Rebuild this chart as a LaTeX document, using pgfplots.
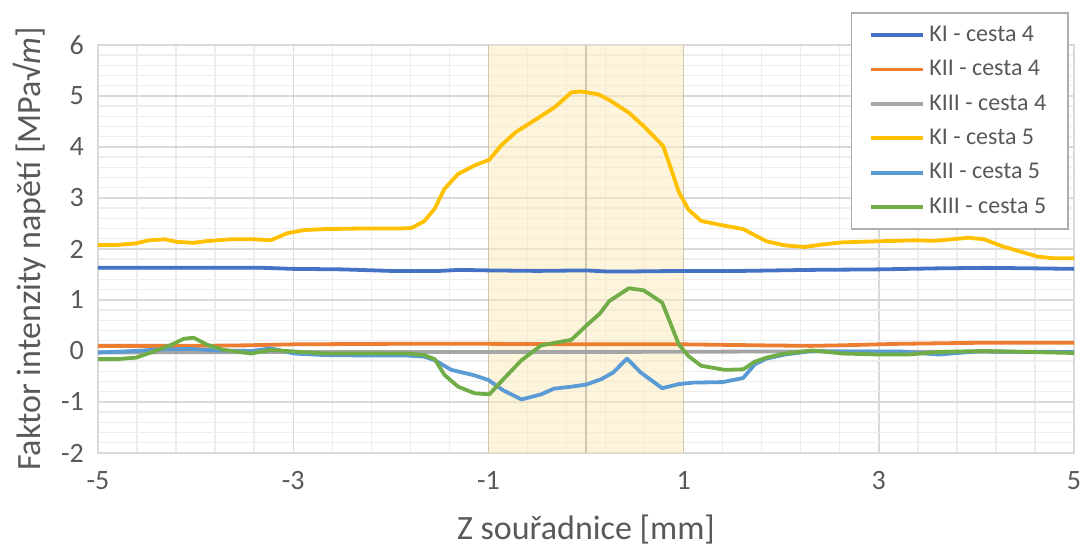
\documentclass[border=0pt]{standalone}
\usepackage{pgfplots}
\pgfplotsset{compat=1.18}
\usepackage{fontspec}
\setmainfont{Carlito}
\definecolor{cA}{HTML}{4472C4}
\definecolor{cB}{HTML}{ED7D31}
\definecolor{cC}{HTML}{A5A5A5}
\definecolor{cD}{HTML}{FFC000}
\definecolor{cE}{HTML}{5B9BD5}
\definecolor{cF}{HTML}{70AD47}
\definecolor{gridmaj}{HTML}{D9D9D9}
\definecolor{gridmin}{HTML}{EDEDED}
\definecolor{txt}{HTML}{595959}
\definecolor{shade}{HTML}{FCEBC0}
\definecolor{tan}{HTML}{CFC5B0}
\begin{document}
\begin{tikzpicture}
\begin{axis}[
  scale only axis, width=488pt, height=204pt,
  xmin=-5, xmax=5, ymin=-2, ymax=6,
  xtick={-5,-3,-1,1,3,5}, ytick={-2,-1,0,1,2,3,4,5,6},
  minor x tick num=4, minor y tick num=4,
  grid=both,
  major grid style={draw=gridmaj, line width=0.7pt},
  minor grid style={draw=gridmin, line width=0.7pt},
  axis line style={draw=gridmaj, line width=0.7pt},
  major tick length=0pt, minor tick length=0pt,
  /pgf/number format/assume math mode=true,
  ticklabel style={font=\fontsize{14}{16}\selectfont, text=txt},
  xticklabel style={anchor=center, yshift=-14pt},
  yticklabel style={xshift=-3.5pt},
  xlabel={Z souřadnice [mm]},
  ylabel={Faktor intenzity napětí [MPa√\textit{m}]},
  label style={font=\fontsize{17}{20}\selectfont, text=txt},
  xlabel style={at={(axis description cs:0.5,-0.1887)}, anchor=center},
  ylabel style={at={(axis description cs:-0.0697,0.5)}, anchor=center},
  legend style={at={(axis description cs:1,1)}, anchor=north east,
    xshift=-2.5pt, yshift=16.5pt, draw=gridmaj!80!black, line width=0.8pt,
    fill=white, font=\fontsize{12}{14}\selectfont, text=txt,
    cells={anchor=west}, row sep=4pt, inner xsep=9pt, inner ysep=4.5pt},
  legend image code/.code={\draw[#1] (0pt,0pt) -- (26pt,0pt);},
  every axis plot/.append style={line width=1.9pt, line join=round},
]
\addplot[forget plot, draw=none, fill=shade, fill opacity=0.55, line width=0pt]
  coordinates {(-1,-2) (-1,6) (1,6) (1,-2) (-1,-2)};
\addplot[forget plot, draw=tan, line width=0.7pt] coordinates {(-1,-2) (-1,6)};
\addplot[forget plot, draw=tan, line width=0.7pt] coordinates {(0,-2) (0,6)};
\addplot[forget plot, draw=tan, line width=0.7pt] coordinates {(1,-2) (1,6)};

\addplot[cA] coordinates {(-5,1.63) (-4,1.63) (-3.3,1.63) (-3,1.61) (-2.5,1.60) (-2,1.57) (-1.5,1.57) (-1.3,1.59) (-1,1.58) (-0.5,1.57) (0,1.58) (0.2,1.56) (0.5,1.56) (1,1.57) (1.6,1.57) (2.3,1.59) (3,1.60) (3.6,1.62) (4.1,1.63) (4.6,1.62) (5,1.61)};
\addlegendentry{KI - cesta 4}
\addplot[cB] coordinates {(-5,0.10) (-4,0.10) (-3.5,0.11) (-3,0.13) (-2,0.14) (-1,0.14) (0,0.13) (1,0.13) (1.8,0.11) (2.3,0.10) (2.6,0.11) (3.2,0.14) (4,0.16) (5,0.16)};
\addlegendentry{KII - cesta 4}
\addplot[cC] coordinates {(-5,-0.03) (-3,-0.02) (0,-0.02) (2,-0.01) (5,-0.02)};
\addlegendentry{KIII - cesta 4}
\addplot[cD] coordinates {(-5,2.08) (-4.8,2.08) (-4.61,2.11) (-4.48,2.17) (-4.32,2.19) (-4.19,2.14) (-4.02,2.12) (-3.91,2.15) (-3.64,2.19) (-3.4,2.19) (-3.23,2.17) (-3.06,2.31) (-2.89,2.37) (-2.68,2.39) (-2.34,2.40) (-1.93,2.40) (-1.79,2.41) (-1.66,2.54) (-1.55,2.79) (-1.45,3.18) (-1.31,3.47) (-1.14,3.64) (-0.99,3.75) (-0.87,4.03) (-0.72,4.29) (-0.53,4.52) (-0.32,4.78) (-0.15,5.07) (-0.05,5.09) (0.13,5.03) (0.24,4.92) (0.44,4.67) (0.59,4.41) (0.79,4.02) (0.87,3.58) (0.95,3.12) (1.05,2.77) (1.18,2.55) (1.38,2.47) (1.61,2.39) (1.85,2.15) (2.04,2.07) (2.24,2.04) (2.43,2.09) (2.63,2.13) (2.98,2.15) (3.37,2.17) (3.57,2.16) (3.92,2.22) (4.08,2.19) (4.27,2.05) (4.43,1.96) (4.63,1.85) (4.78,1.82) (5,1.82)};
\addlegendentry{KI - cesta 5}
\addplot[cE] coordinates {(-5,-0.03) (-4.61,0.0) (-4.39,0.03) (-4.05,0.04) (-3.78,0.01) (-3.43,0.0) (-3.23,0.05) (-2.99,-0.05) (-2.68,-0.08) (-2.17,-0.09) (-1.83,-0.09) (-1.66,-0.11) (-1.55,-0.18) (-1.38,-0.37) (-1.14,-0.48) (-1.0,-0.57) (-0.85,-0.77) (-0.66,-0.95) (-0.46,-0.85) (-0.33,-0.74) (-0.15,-0.70) (0.0,-0.66) (0.16,-0.55) (0.28,-0.42) (0.42,-0.15) (0.56,-0.42) (0.78,-0.73) (0.95,-0.65) (1.10,-0.62) (1.40,-0.61) (1.61,-0.53) (1.73,-0.26) (1.85,-0.15) (2.04,-0.07) (2.32,0.0) (2.63,-0.01) (3.22,-0.01) (3.61,-0.07) (4.0,-0.01) (5,-0.02)};
\addlegendentry{KII - cesta 5}
\addplot[cF] coordinates {(-5,-0.16) (-4.8,-0.16) (-4.61,-0.13) (-4.46,-0.03) (-4.25,0.12) (-4.12,0.24) (-4.02,0.26) (-3.88,0.12) (-3.71,0.02) (-3.43,-0.05) (-3.23,0.02) (-2.99,-0.01) (-2.68,-0.05) (-1.83,-0.05) (-1.66,-0.08) (-1.55,-0.16) (-1.45,-0.47) (-1.31,-0.70) (-1.14,-0.83) (-0.99,-0.85) (-0.84,-0.54) (-0.66,-0.18) (-0.46,0.11) (-0.29,0.17) (-0.15,0.22) (0.0,0.49) (0.14,0.73) (0.24,0.98) (0.44,1.23) (0.59,1.19) (0.78,0.95) (0.87,0.52) (0.95,0.13) (1.05,-0.10) (1.18,-0.29) (1.42,-0.37) (1.61,-0.36) (1.73,-0.21) (1.85,-0.13) (2.04,-0.05) (2.32,0.01) (2.63,-0.05) (3.02,-0.07) (3.30,-0.07) (3.61,-0.02) (4.08,0.0) (5,-0.04)};
\addlegendentry{KIII - cesta 5}
\end{axis}
\pgfresetboundingbox
\path[use as bounding box] (current axis.south west) ++(-49pt,-51.5pt) rectangle ([xshift=6pt,yshift=22.5pt]current axis.north east);
\end{tikzpicture}
\end{document}
